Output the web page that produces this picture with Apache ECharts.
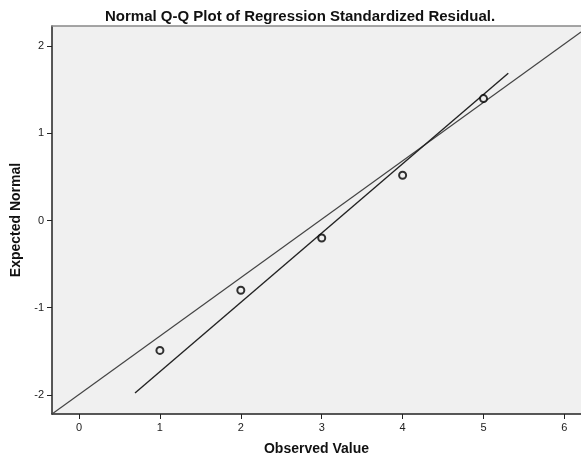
<!DOCTYPE html>
<html>
<head>
<meta charset="utf-8">
<script src="https://cdn.jsdelivr.net/npm/echarts@6/dist/echarts.min.js"></script>
<style>
  html, body { margin: 0; padding: 0; background: #fff; overflow: hidden; }
  #chart { width: 581px; height: 461px; }
</style>
</head>
<body>
<div id="chart"></div>
<script>
var observed = [1, 2, 3, 4, 5]
var expected = [-1.49, -0.80, -0.20, 0.52, 1.40]

// the two reference lines, as end points [x, y]
var diagonalLine = [[-0.334, -2.22], [6.205, 2.164]]
var fitLine = [[0.692, -1.98], [5.306, 1.69]]

var xTicks = [0, 1, 2, 3, 4, 5, 6]
var yTicks = [-2, -1, 0, 1, 2]

var chart = echarts.init(document.getElementById('chart'))

var fontFamily = 'Liberation Sans, Arial, sans-serif'

chart.setOption({
  animation: false,
  textStyle: { fontFamily: fontFamily },
  title: {
    text: 'Normal Q-Q Plot of Regression Standardized Residual.',
    left: 100,
    top: 4,
    textStyle: {
      fontFamily: fontFamily,
      fontSize: 15,
      fontWeight: 'bold',
      color: '#111'
    }
  },
  grid: {
    left: 52,
    right: 0,
    top: 26,
    bottom: 44,
    show: true,
    backgroundColor: '#f0f0f0',
    borderWidth: 0
  },
  xAxis: [
    {
      type: 'value',
      min: -0.334,
      max: 6.205,
      name: 'Observed Value',
      nameLocation: 'middle',
      nameGap: 28,
      nameTextStyle: { fontSize: 14, fontWeight: 'bold', color: '#111' },
      axisLine: { onZero: false, lineStyle: { color: '#222', width: 1.5 } },
      axisTick: { show: true, length: 5, lineStyle: { color: '#222' }, customValues: xTicks },
      axisLabel: { fontSize: 11, color: '#222', margin: 8, customValues: xTicks },
      splitLine: { show: false }
    },
    {
      // top frame line only
      type: 'value',
      position: 'top',
      min: -0.334,
      max: 6.205,
      axisLine: { onZero: false, lineStyle: { color: '#888', width: 1.5 } },
      axisTick: { show: false },
      axisLabel: { show: false },
      splitLine: { show: false }
    }
  ],
  yAxis: {
    type: 'value',
    min: -2.22,
    max: 2.233,
    name: 'Expected Normal',
    nameLocation: 'middle',
    nameGap: 27,
    nameTextStyle: { fontSize: 14, fontWeight: 'bold', color: '#111' },
    axisLine: { show: true, onZero: false, lineStyle: { color: '#222', width: 1.5 } },
    axisTick: { show: true, length: 5, lineStyle: { color: '#222' }, customValues: yTicks },
    axisLabel: { fontSize: 11, color: '#222', margin: 8, customValues: yTicks },
    splitLine: { show: false }
  },
  series: [
    {
      type: 'line',
      data: diagonalLine,
      symbol: 'none',
      lineStyle: { color: '#444', width: 1.2 },
      z: 2
    },
    {
      type: 'line',
      data: fitLine,
      symbol: 'none',
      lineStyle: { color: '#222', width: 1.4 },
      z: 3
    },
    {
      type: 'scatter',
      data: observed.map(function (x, i) { return [x, expected[i]] }),
      symbol: 'circle',
      symbolSize: 7,
      itemStyle: { color: '#f0f0f0', borderColor: '#000', borderWidth: 2 },
      z: 4
    }
  ]
})
</script>
</body>
</html>
